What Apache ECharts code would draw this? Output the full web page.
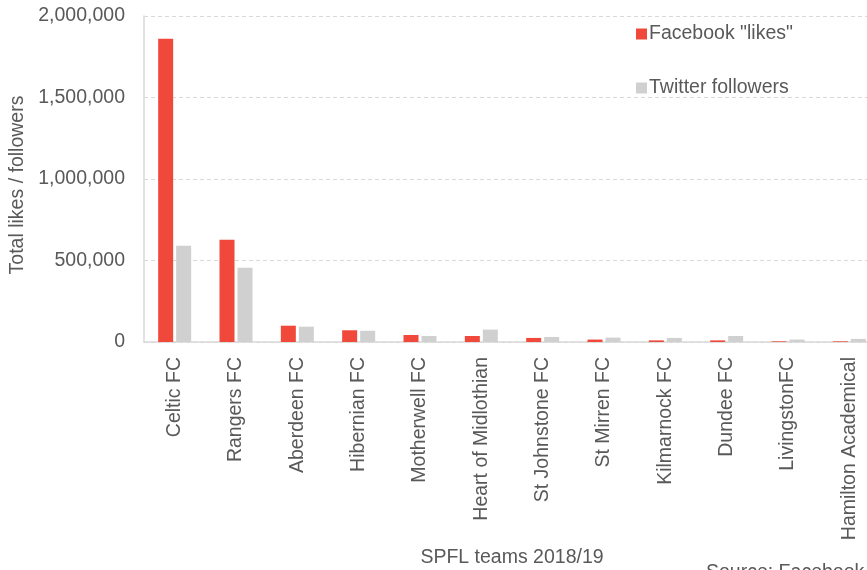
<!DOCTYPE html>
<html>
<head>
<meta charset="utf-8">
<script src="https://cdn.jsdelivr.net/npm/echarts@6/dist/echarts.min.js"></script>
<style>html,body{margin:0;padding:0;background:#fff;}#c{width:867px;height:570px;}</style>
</head>
<body>
<div id="c"></div>
<script>
const categories = ['Celtic FC','Rangers FC','Aberdeen FC','Hibernian FC','Motherwell FC','Heart of Midlothian','St Johnstone FC','St Mirren FC','Kilmarnock FC','Dundee FC','LivingstonFC','Hamilton Academical'];
const facebookLikes = [1860000, 628000, 100000, 72000, 43000, 37000, 25000, 15000, 10000, 10000, 4000, 4000];
const twitterFollowers = [590000, 455000, 94000, 69000, 37000, 76000, 31000, 27000, 25000, 37000, 15000, 19000];
const yTicks = [0, 500000, 1000000, 1500000, 2000000];

const chart = echarts.init(document.getElementById('c'));
const txt = '#595959';
const font = 'Liberation Sans, Arial, sans-serif';
const fs = 19.5;
chart.setOption({
  animation: false,
  textStyle: {fontFamily: font},
  grid: {left: 144, top: 16, width: 736, height: 326, containLabel: false, outerBoundsMode: 'none'},
  legend: {
    orient: 'vertical', left: 631, top: 19, itemGap: 34, itemWidth: 11, itemHeight: 11,
    icon: 'rect',
    textStyle: {color: txt, fontSize: fs, fontFamily: font, padding: [0,0,0,-3]},
    data: ['Facebook "likes"', 'Twitter followers']
  },
  xAxis: {
    type: 'category', data: categories,
    name: 'SPFL teams 2018/19', nameLocation: 'middle', nameGap: 206,
    nameTextStyle: {color: txt, fontSize: fs, fontFamily: font},
    axisLine: {lineStyle: {color: '#d9d9d9', width: 1.5}},
    axisTick: {show: false},
    axisLabel: {rotate: 90, color: txt, fontSize: fs, fontFamily: font, margin: 15, interval: 0}
  },
  yAxis: {
    type: 'value', min: yTicks[0], max: yTicks[yTicks.length-1], interval: 500000,
    name: 'Total likes / followers', nameLocation: 'middle', nameGap: 104, nameRotate: 90,
    nameTextStyle: {color: txt, fontSize: fs, fontFamily: font, padding: [0, 12, 0, 0]},
    axisLine: {show: true, lineStyle: {color: '#d9d9d9', width: 1.5}},
    axisTick: {show: false},
    splitLine: {lineStyle: {color: '#d9d9d9', type: [4, 3]}},
    axisLabel: {color: txt, fontSize: fs, fontFamily: font, margin: 19,
      formatter: v => v.toLocaleString('en-US')}
  },
  series: [
    {name: 'Facebook "likes"', type: 'bar', data: facebookLikes, barWidth: 15, barGap: '20%',
     itemStyle: {color: '#f0493b'}},
    {name: 'Twitter followers', type: 'bar', data: twitterFollowers, barWidth: 15,
     itemStyle: {color: '#d0d0d0'}}
  ],
  graphic: [{type: 'text', left: 706, top: 563, style: {text: 'Source: Facebook, Twitter', fill: txt, fontSize: fs, fontFamily: font}}]
});
</script>
</body>
</html>
